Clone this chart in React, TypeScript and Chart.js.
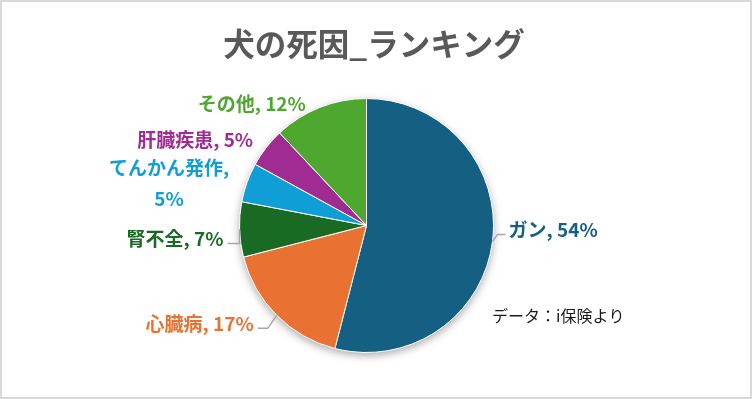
import React, { useEffect, useRef } from "react";
import { Chart, registerables } from "chart.js";

Chart.register(...registerables);

const categories = ["ガン", "心臓病", "腎不全", "てんかん発作", "肝臓疾患", "その他"];
const values = [54, 17, 7, 5, 5, 12];
const colors = ["#156082", "#E97132", "#196B24", "#0F9ED5", "#A02B93", "#4EA72E"];
const titleText = "犬の死因_ランキング";
const sourceNote = "データ：i保険より";

const FONT = "'Noto Sans CJK JP', 'Noto Sans', sans-serif";

// label placement relative to each slice's outer mid-point (style only)
type Place = { dx: number; dy: number; align: CanvasTextAlign; leader?: number; wrap?: boolean };
const labelPlacement: Place[] = [
  { dx: 16, dy: -12, align: "left", leader: 5 },
  { dx: -23, dy: 8, align: "right", leader: -9 },
  { dx: -16, dy: 9, align: "right", leader: 0 },
  { dx: -78, dy: -15, align: "center", wrap: true },
  { dx: -13, dy: -8, align: "right" },
  { dx: -68, dy: -4, align: "center" },
];

const decorPlugin = {
  id: "decor",
  beforeDatasetsDraw(chart: any) {
    const arc = chart.getDatasetMeta(0).data[0];
    if (!arc) return;
    const { x, y, outerRadius } = arc.getProps(["x", "y", "outerRadius"], true);
    const ctx = chart.ctx;
    ctx.save();
    ctx.shadowColor = "rgba(0,0,0,0.35)";
    ctx.shadowBlur = 8;
    ctx.shadowOffsetY = 3;
    ctx.beginPath();
    ctx.arc(x, y, outerRadius, 0, Math.PI * 2);
    ctx.fillStyle = "#ffffff";
    ctx.fill();
    ctx.restore();
  },
  afterDraw(chart: any) {
    const ctx = chart.ctx;
    const W = chart.width;
    const H = chart.height;
    ctx.save();
    // outer border
    ctx.strokeStyle = "#D9D9D9";
    ctx.lineWidth = 2;
    ctx.strokeRect(1, 1, W - 2, H - 2);
    // title
    ctx.fillStyle = "#595959";
    ctx.font = `bold 31.5px ${FONT}`;
    ctx.textAlign = "center";
    ctx.textBaseline = "middle";
    ctx.fillText(titleText, 374, 44);
    // source note
    ctx.fillStyle = "#1a1a1a";
    ctx.font = `16px ${FONT}`;
    ctx.textAlign = "left";
    ctx.fillText(sourceNote, 492, 316);

    // data labels
    const arcs = chart.getDatasetMeta(0).data;
    arcs.forEach((arc: any, i: number) => {
      const { x, y, startAngle, endAngle, outerRadius } = arc.getProps(
        ["x", "y", "startAngle", "endAngle", "outerRadius"],
        true
      );
      const mid = (startAngle + endAngle) / 2;
      const ax = x + Math.cos(mid) * outerRadius;
      const ay = y + Math.sin(mid) * outerRadius;
      const p = labelPlacement[i];
      const tx = ax + p.dx;
      const ty = ay + p.dy;
      ctx.font = `bold 19px ${FONT}`;
      ctx.fillStyle = colors[i];
      ctx.textAlign = p.align;
      ctx.textBaseline = "middle";
      const text = `${categories[i]}, ${values[i]}%`;
      if (p.wrap) {
        ctx.fillText(`${categories[i]},`, tx, ty);
        ctx.fillText(`${values[i]}%`, tx, ty + 31);
      } else {
        ctx.fillText(text, tx, ty);
      }
      if (p.leader !== undefined) {
        const ly = ty + 5;
        const endX = p.align === "left" ? tx - 3 : tx + 4;
        ctx.beginPath();
        ctx.strokeStyle = "#A6A6A6";
        ctx.lineWidth = 1.5;
        ctx.moveTo(ax, ay);
        ctx.lineTo(ax + p.leader, ly);
        ctx.lineTo(endX, ly);
        ctx.stroke();
      }
    });
    ctx.restore();
  },
};

export default function App() {
  const ref = useRef<HTMLCanvasElement | null>(null);
  useEffect(() => {
    document.body.style.margin = "0";
    if (!ref.current) return;
    Chart.defaults.font.family = FONT;
    const chart = new Chart(ref.current, {
      type: "pie",
      data: {
        labels: categories,
        datasets: [
          {
            data: values,
            backgroundColor: colors,
            borderColor: "#ffffff",
            borderWidth: 1,
          },
        ],
      },
      options: {
        responsive: false,
        devicePixelRatio: 1,
        animation: false,
        layout: { padding: { left: 239, right: 258, top: 98, bottom: 46 } },
        plugins: {
          legend: { display: false },
          tooltip: { enabled: false },
          title: { display: false },
        },
      },
      plugins: [decorPlugin],
    });
    return () => chart.destroy();
  }, []);
  return (
    <div style={{ position: "absolute", left: 0, top: 0, width: 752, height: 399, background: "#fff" }}>
      <canvas ref={ref} width={752} height={399} style={{ display: "block" }} />
    </div>
  );
}
